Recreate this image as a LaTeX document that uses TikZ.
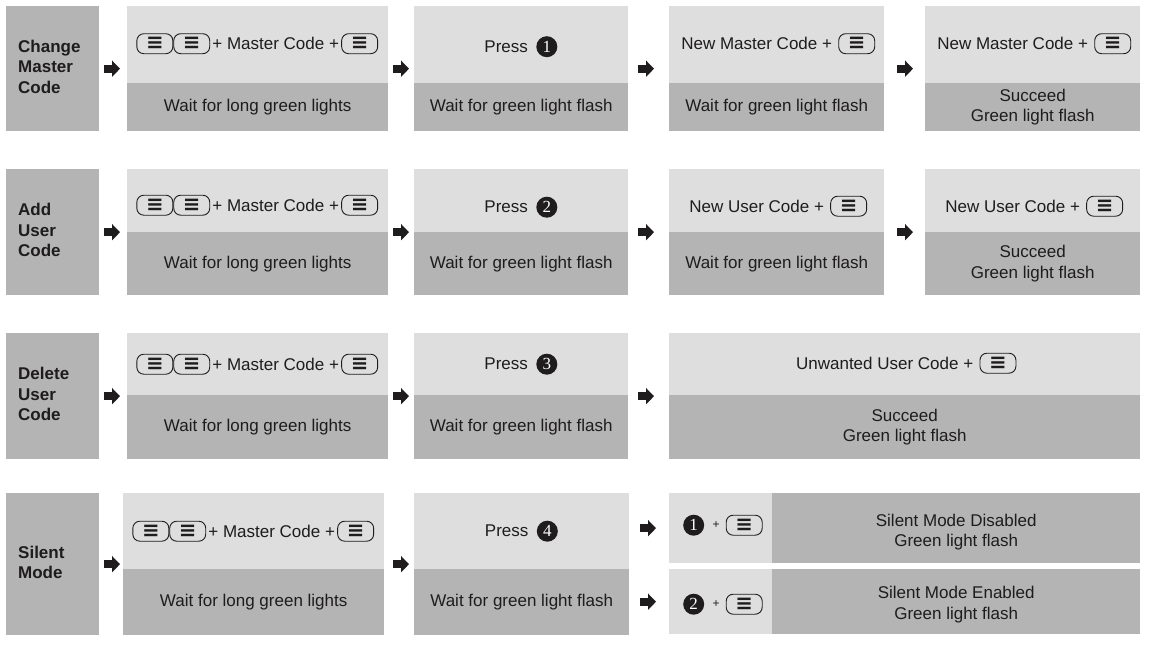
\documentclass[tikz,border=0pt]{standalone}
\usepackage{fontspec}
\setmainfont{Liberation Sans}
\newfontfamily\symfont{DejaVu Sans}
\newfontfamily\numfont{Liberation Serif}
\usetikzlibrary{positioning,arrows.meta}
\definecolor{boxlight}{HTML}{DEDEDE}
\definecolor{boxdark}{HTML}{B4B4B4}
\definecolor{ink}{HTML}{1E1C1C}

\begin{document}
\begin{tikzpicture}[x=1pt,y=-1pt,
  every node/.style={text=ink, font=\fontsize{17pt}{20.5pt}\selectfont},
  box/.style={inner sep=0pt, anchor=north west, align=center},
  lt/.style 2 args={box, fill=boxlight, minimum width=#1, minimum height=#2},
  dk/.style 2 args={box, fill=boxdark, minimum width=#1, minimum height=#2},
  head/.style={box, fill=boxdark, minimum width=93pt, minimum height=#1, text width=69pt, inner xsep=12pt, align=left, font=\fontsize{17pt}{20.5pt}\selectfont\bfseries},
  txt/.style={inner sep=2pt},
  keybtn/.style={draw=ink, line width=0.9pt, rounded corners=7pt, minimum width=36pt, minimum height=20pt, inner sep=0pt, font=\symfont\bfseries\fontsize{21pt}{21pt}\selectfont},
  num/.style={circle, fill=ink, text=white, minimum size=21pt, inner sep=0pt, font=\numfont\fontsize{17pt}{17pt}\selectfont},
  arr/.style 2 args={draw=ink, line width=8pt, -{Triangle[length=8pt,width=16pt]}, shorten <=#1, shorten >=#2}]
  \path[use as bounding box, fill=white] (0,0) rectangle (1157,646);

  % change master code
  \node[head=125pt] (cmHead) at (6,6) {Change\\Master\\Code\rule[-4pt]{0pt}{4pt}};
  \node[lt={261pt}{77pt}] (cm1t) at (127,6) {};
  \node[dk={261pt}{48pt}] (cm1b) at (127,83) {Wait for long green lights};
  \node[lt={214pt}{77pt}] (cm2t) at (414,6) {};
  \node[dk={214pt}{48pt}] (cm2b) at (414,83) {Wait for green light flash};
  \node[lt={215pt}{77pt}] (cm3t) at (669,6) {};
  \node[dk={215pt}{48pt}] (cm3b) at (669,83) {Wait for green light flash};
  \node[lt={215pt}{77pt}] (cm4t) at (925,6) {};
  \node[dk={215pt}{48pt}] (cm4b) at (925,83) {Succeed\\Green light flash};
  \node[txt] (cmMc) at ([xshift=18pt,yshift=1pt]cm1t.center) {+ Master Code +};
  \node[keybtn, left=0pt of cmMc] (cmK2) {≡};
  \node[keybtn, left=0pt of cmK2] (cmK1) {≡};
  \node[keybtn, right=0pt of cmMc] (cmK3) {≡};
  \node[txt] (cmPress) at ([xshift=-15pt,yshift=-2pt]cm2t.center) {Press};
  \node[num, right=6pt of cmPress] (cmN) {1};
  \node[txt] (cmNew) at ([xshift=-20pt,yshift=1pt]cm3t.center) {New Master Code +};
  \node[keybtn, right=4pt of cmNew] (cmK4) {≡};
  \node[txt] (cmNew2) at ([xshift=-20pt,yshift=1pt]cm4t.center) {New Master Code +};
  \node[keybtn, right=4pt of cmNew2] (cmK5) {≡};
  \draw[arr={5pt}{7pt}] (cmHead.east) -- (cm1t.west |- cmHead.east);
  \draw[arr={5pt}{5pt}] (cm1t.east |- cmHead.east) -- (cm2t.west |- cmHead.east);
  \draw[arr={10pt}{15pt}] (cm2t.east |- cmHead.east) -- (cm3t.west |- cmHead.east);
  \draw[arr={13pt}{12pt}] (cm3t.east |- cmHead.east) -- (cm4t.west |- cmHead.east);

  % add user code
  \node[head=126pt] (auHead) at (6,169) {Add\\User\\Code\rule[-4pt]{0pt}{4pt}};
  \node[lt={261pt}{63pt}] (au1t) at (127,169) {};
  \node[dk={261pt}{63pt}] (au1b) at (127,232) {Wait for long green lights};
  \node[lt={214pt}{63pt}] (au2t) at (414,169) {};
  \node[dk={214pt}{63pt}] (au2b) at (414,232) {Wait for green light flash};
  \node[lt={215pt}{63pt}] (au3t) at (669,169) {};
  \node[dk={215pt}{63pt}] (au3b) at (669,232) {Wait for green light flash};
  \node[lt={215pt}{63pt}] (au4t) at (925,169) {};
  \node[dk={215pt}{63pt}] (au4b) at (925,232) {Succeed\\Green light flash};
  \node[txt] (auMc) at ([xshift=18pt,yshift=-4.5pt]au1t.center) {+ Master Code +};
  \node[keybtn, left=0pt of auMc] (auK2) {≡};
  \node[keybtn, left=0pt of auK2] (auK1) {≡};
  \node[keybtn, right=0pt of auMc] (auK3) {≡};
  \node[txt] (auPress) at ([xshift=-15pt,yshift=-6.5pt]au2t.center) {Press};
  \node[num, right=6pt of auPress] (auN) {2};
  \node[txt] (auNew) at ([xshift=-20pt,yshift=-5.5pt]au3t.center) {New User Code +};
  \node[keybtn, right=4pt of auNew] (auK4) {≡};
  \node[txt] (auNew2) at ([xshift=-20pt,yshift=-5.5pt]au4t.center) {New User Code +};
  \node[keybtn, right=4pt of auNew2] (auK5) {≡};
  \draw[arr={5pt}{7pt}] (auHead.east) -- (au1t.west |- auHead.east);
  \draw[arr={5pt}{5pt}] (au1t.east |- auHead.east) -- (au2t.west |- auHead.east);
  \draw[arr={10pt}{15pt}] (au2t.east |- auHead.east) -- (au3t.west |- auHead.east);
  \draw[arr={13pt}{12pt}] (au3t.east |- auHead.east) -- (au4t.west |- auHead.east);

  % delete user code
  \node[head=126pt] (duHead) at (6,333) {Delete\\User\\Code\rule[-4pt]{0pt}{4pt}};
  \node[lt={261pt}{62pt}] (du1t) at (127,333) {};
  \node[dk={261pt}{64pt}] (du1b) at (127,395) {Wait for long green lights};
  \node[lt={214pt}{62pt}] (du2t) at (414,333) {};
  \node[dk={214pt}{64pt}] (du2b) at (414,395) {Wait for green light flash};
  \node[lt={471pt}{62pt}] (du3t) at (669,333) {};
  \node[dk={471pt}{64pt}] (du3b) at (669,395) {Succeed\\Green light flash};
  \node[txt] (duMc) at ([xshift=18pt]du1t.center) {+ Master Code +};
  \node[keybtn, left=0pt of duMc] (duK2) {≡};
  \node[keybtn, left=0pt of duK2] (duK1) {≡};
  \node[keybtn, right=0pt of duMc] (duK3) {≡};
  \node[txt] (duPress) at ([xshift=-15pt]du2t.center) {Press};
  \node[num, right=6pt of duPress] (duN) {3};
  \node[txt] (duOld) at ([xshift=-20pt,yshift=1pt]du3t.center) {Unwanted User Code +};
  \node[keybtn, right=4pt of duOld] (duK4) {≡};
  \draw[arr={5pt}{7pt}] (duHead.east) -- (du1t.west |- duHead.east);
  \draw[arr={5pt}{5pt}] (du1t.east |- duHead.east) -- (du2t.west |- duHead.east);
  \draw[arr={10pt}{15pt}] (du2t.east |- duHead.east) -- (du3t.west |- duHead.east);

  % silent mode
  \node[head=142pt] (smHead) at (6,493) {Silent\\Mode\rule[-4pt]{0pt}{4pt}};
  \node[lt={261pt}{76pt}] (sm1t) at (123,493) {};
  \node[dk={261pt}{66pt}] (sm1b) at (123,569) {Wait for long green lights};
  \node[lt={215pt}{76pt}] (sm2t) at (414,493) {};
  \node[dk={215pt}{66pt}] (sm2b) at (414,569) {Wait for green light flash};
  \node[lt={103pt}{70pt}] (smAl) at (669,493) {};
  \node[dk={368pt}{70pt}] (smAd) at (772,493) {\rule{0pt}{20pt}Silent Mode Disabled\\Green light flash};
  \node[lt={103pt}{65pt}] (smBl) at (669,569) {};
  \node[dk={368pt}{65pt}] (smBd) at (772,569) {\rule{0pt}{18pt}Silent Mode Enabled\\Green light flash};
  \node[txt] (smMc) at ([xshift=18pt]sm1t.center) {+ Master Code +};
  \node[keybtn, left=0pt of smMc] (smK2) {≡};
  \node[keybtn, left=0pt of smK2] (smK1) {≡};
  \node[keybtn, right=0pt of smMc] (smK3) {≡};
  \node[txt] (smPress) at ([xshift=-15pt]sm2t.center) {Press};
  \node[num, right=6pt of smPress] (smN) {4};
  \node[num] (smN1) at ([xshift=-27pt,yshift=3pt]smAl.center) {1};
  \node[txt, font=\fontsize{12pt}{12pt}\selectfont] (smP1) at ([xshift=-4.5pt,yshift=3pt]smAl.center) {+};
  \node[keybtn] (smK4) at ([xshift=23.5pt,yshift=3pt]smAl.center) {≡};
  \node[num] (smN2) at ([xshift=-27pt,yshift=-2.5pt]smBl.center) {2};
  \node[txt, font=\fontsize{12pt}{12pt}\selectfont] (smP2) at ([xshift=-4.5pt,yshift=-2.5pt]smBl.center) {+};
  \node[keybtn] (smK5) at ([xshift=23.5pt,yshift=-2.5pt]smBl.center) {≡};
  \draw[arr={5pt}{3pt}] (smHead.east) -- (sm1t.west |- smHead.east);
  \draw[arr={9pt}{5pt}] (sm1t.east |- smHead.east) -- (sm2t.west |- smHead.east);
  \draw[arr={11pt}{13pt}] (sm2t.east |- smAl.west) -- (smAl.west);
  \draw[arr={11pt}{13pt}] (sm2t.east |- smBl.west) -- (smBl.west);
\end{tikzpicture}
\end{document}
